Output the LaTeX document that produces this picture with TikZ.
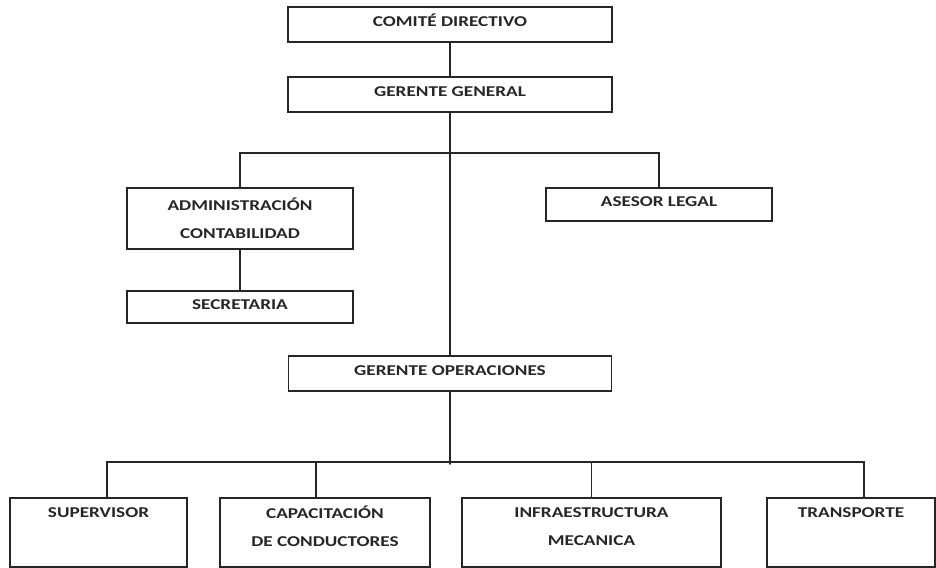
\documentclass[tikz,border=0pt]{standalone}
\usepackage{fontspec}
\setsansfont{Carlito}[FakeStretch=1.28]
\begin{document}
\begin{tikzpicture}[x=1pt, y=-1pt, line width=1.8pt, line cap=round, draw=black!85,
	font=\sffamily\bfseries\fontsize{15}{28}\selectfont,
	cargo/.style={draw=black!85, align=center, inner sep=0pt, text=black!85},
	una/.style={cargo, text height=10pt, text depth=6pt},
	fila/.style={cargo, minimum height=69, text depth=12pt}]
	\useasboundingbox (0,0) rectangle (936,567);
	% niveles superiores
	\node[una, minimum width=324, minimum height=35] (comite) at (450,24.5) {COMITÉ DIRECTIVO};
	\node[una, minimum width=324, minimum height=35] (gerente) at (450,94.5) {GERENTE GENERAL};
	\node[cargo, minimum width=226, minimum height=61] (admin) at (240,218.5) {ADMINISTRACIÓN\\CONTABILIDAD};
	\node[una, minimum width=226, minimum height=33] (asesor) at (659,204.5) {ASESOR LEGAL};
	\node[una, minimum width=226, minimum height=32] (secre) at (240,307) {SECRETARIA};
	\node[una, minimum width=323, minimum height=35] (operac) at (450,373.5) {GERENTE OPERACIONES};
	% fila inferior
	\node[fila, minimum width=177] (superv) at (98.5,532.5) {SUPERVISOR\\\phantom{D}};
	\node[fila, minimum width=210] (capac) at (325,532.5) {CAPACITACIÓN\\DE CONDUCTORES};
	\node[fila, minimum width=259] (infra) at (591.5,532.5) {INFRAESTRUCTURA\\MECANICA};
	\node[fila, minimum width=168] (transp) at (851,532.5) {TRANSPORTE\\\phantom{D}};
	% conexiones
	\draw (comite) -- (gerente);
	\draw (gerente.south) -- (operac.north);
	\draw (admin.north) -- ++(0,-34) -| (asesor.north);
	\draw (admin) -- (secre);
	\coordinate (barra) at ([yshift=-72pt]operac.south);
	\draw (operac.south) -- (barra);
	\draw ([xshift=8.5pt]superv.north) -- ++(0,-35) -| ([xshift=13pt]transp.north);
	\foreach \n/\d in {capac/-9, infra/0} \draw ([xshift=\d pt]\n.north) -- ++(0,-35);
\end{tikzpicture}
\end{document}
